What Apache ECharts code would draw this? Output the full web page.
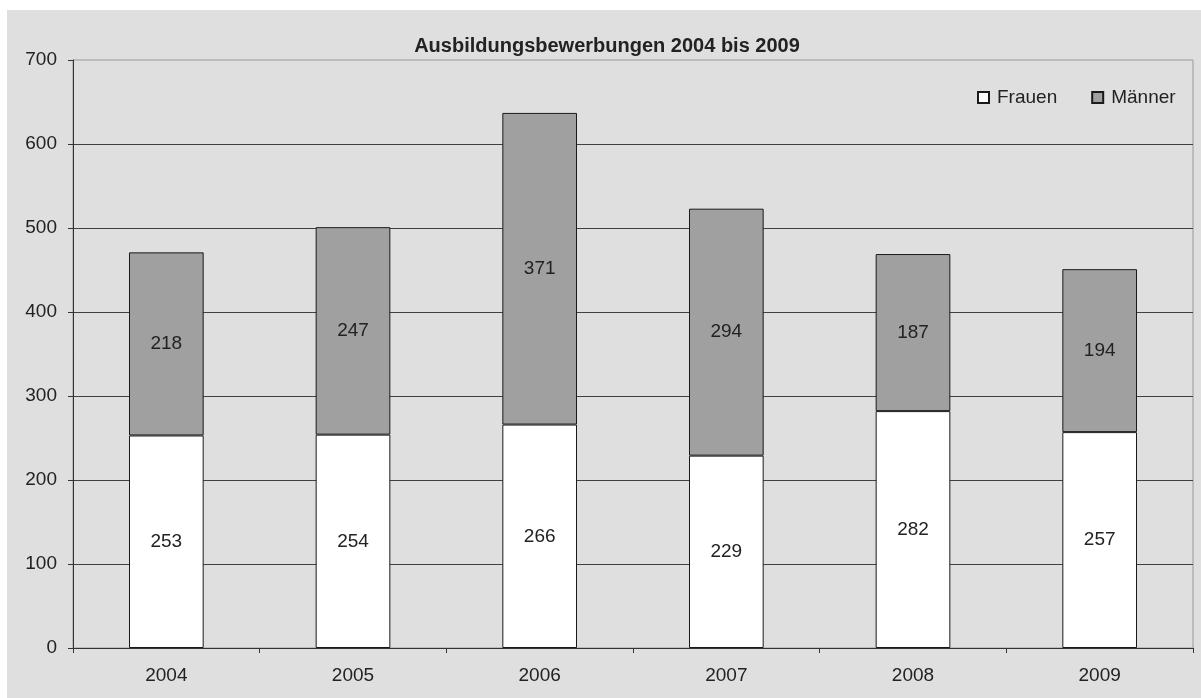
<!DOCTYPE html>
<html>
<head>
<meta charset="utf-8">
<script src="https://cdn.jsdelivr.net/npm/echarts@6/dist/echarts.min.js"></script>
<style>
  html, body { margin: 0; padding: 0; background: #fff; }
  #chart { width: 1201px; height: 698px; }
</style>
</head>
<body>
<div id="chart"></div>
<script>
// Bewerbungen je Jahr, aufgeteilt nach Geschlecht
const years = ['2004', '2005', '2006', '2007', '2008', '2009'];
const frauen = [253, 254, 266, 229, 282, 257];
const maenner = [218, 247, 371, 294, 187, 194];
const chartTitle = 'Ausbildungsbewerbungen 2004 bis 2009';

const FONT = 'Liberation Sans, Arial, sans-serif';
const TEXT = '#222';

const chart = echarts.init(document.getElementById('chart'), null, { renderer: 'canvas' });

const labelStyle = {
  show: true,
  position: 'inside',
  fontFamily: FONT,
  fontSize: 19,
  color: TEXT
};

chart.setOption({
  backgroundColor: '#ffffff',
  animation: false,
  textStyle: { fontFamily: FONT },
  graphic: [{
    type: 'rect',
    z: -10,
    silent: true,
    shape: { x: 7, y: 10, width: 1194, height: 688 },
    style: { fill: '#dfdfdf' }
  }],
  title: {
    text: chartTitle,
    left: 607,
    top: 36,
    padding: 0,
    textAlign: 'center',
    textStyle: { fontFamily: FONT, fontSize: 20, fontWeight: 'bold', color: TEXT }
  },
  legend: {
    left: 977,
    top: 88,
    padding: 0,
    itemWidth: 11,
    itemHeight: 11,
    itemGap: 34,
    icon: 'rect',
    textStyle: { fontFamily: FONT, fontSize: 19, color: TEXT, padding: [0, 0, 0, 3] },
    data: ['Frauen', 'Männer']
  },
  grid: {
    left: 73,
    right: 8,
    top: 60,
    bottom: 50,
    show: true,
    backgroundColor: 'transparent',
    borderColor: '#9a9a9a',
    borderWidth: 1,
    containLabel: false
  },
  xAxis: {
    type: 'category',
    data: years,
    boundaryGap: true,
    axisLine: { lineStyle: { color: '#333', width: 1 } },
    axisTick: { show: true, length: 5, lineStyle: { color: '#333' } },
    axisLabel: { fontFamily: FONT, fontSize: 19, color: TEXT, margin: 18 },
    splitLine: { show: false }
  },
  yAxis: {
    type: 'value',
    min: 0,
    max: 700,
    interval: 100,
    axisLine: { show: true, lineStyle: { color: '#333', width: 1 } },
    axisTick: { show: true, length: 5, lineStyle: { color: '#333' } },
    axisLabel: { fontFamily: FONT, fontSize: 19, color: TEXT, margin: 16 },
    splitLine: { show: true, showMaxLine: false, lineStyle: { color: '#404040', width: 1 } }
  },
  series: [
    {
      name: 'Frauen',
      type: 'bar',
      stack: 'gesamt',
      barWidth: '40%',
      data: frauen,
      itemStyle: { color: '#ffffff', borderColor: '#1a1a1a', borderWidth: 1 },
      label: labelStyle
    },
    {
      name: 'Männer',
      type: 'bar',
      stack: 'gesamt',
      barWidth: '40%',
      data: maenner,
      itemStyle: { color: '#a0a0a0', borderColor: '#1a1a1a', borderWidth: 1 },
      label: labelStyle
    }
  ]
});
</script>
</body>
</html>
